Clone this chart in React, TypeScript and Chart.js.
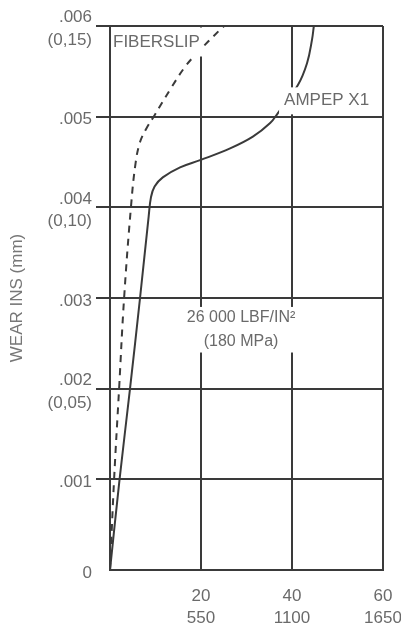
import React, { useEffect, useRef } from 'react';
import { Chart, registerables } from 'chart.js';

Chart.register(...registerables);

// ---- data ----
const xTickLabels: string[][] = [[''], ['20', '550'], ['40', '1100'], ['60', '1650']];
const yTickLabels: string[][] = [
  ['0'],
  ['.001'],
  ['.002', '(0,05)'],
  ['.003'],
  ['.004', '(0,10)'],
  ['.005'],
  ['.006', '(0,15)'],
];
const yTitle = 'WEAR INS (mm)';
const seriesNames = ['FIBERSLIP', 'AMPEP X1'];
const loadLabel = ['26 000 LBF/IN²', '(180 MPa)'];

const fiberslipX = [0, 0.9, 2.0, 3.1, 4.6, 5.6, 6.6, 8.0, 9.6, 13.6, 16.5, 19.1, 24.2, 25.1];
const fiberslipY = [0, 0.001, 0.002, 0.003, 0.004, 0.00448, 0.00472, 0.00487, 0.005, 0.00533, 0.00555, 0.0057, 0.00596, 0.006];

const ampepX = [0, 2.1, 4.4, 6.6, 8.5, 9.0, 9.8, 11.6, 15.4, 19.8, 26.4, 31.4, 35.2, 36.9, 41.3, 43.3, 44.4, 44.8];
const ampepY = [0, 0.001, 0.002, 0.003, 0.0039, 0.00411, 0.00423, 0.00433, 0.00444, 0.00452, 0.00465, 0.00478, 0.00493, 0.00504, 0.00535, 0.00559, 0.00585, 0.006];

const INK = '#3a3a3a';
const TEXT = '#6a6a6a';
const FONT = "'Liberation Sans', Arial, Helvetica, sans-serif";

const toPoints = (xs: number[], ys: number[]) => xs.map((x, i) => ({ x, y: ys[i] }));

const labelPlugin = {
  id: 'labels',
  afterDatasetsDraw(chart: any) {
    const { ctx, chartArea, scales } = chart;
    const xs = scales.x;
    const ys = scales.y;
    ctx.save();
    ctx.font = `17px ${FONT}`;
    ctx.textBaseline = 'middle';

    // FIBERSLIP
    {
      const left = chartArea.left + 3;
      const cy = ys.getPixelForValue(0.00582);
      const w = ctx.measureText(seriesNames[0]).width;
      ctx.fillStyle = '#fff';
      ctx.fillRect(chartArea.left + 1.5, chartArea.top + 1.5, w + 4, 29);
      ctx.fillStyle = TEXT;
      ctx.textAlign = 'left';
      ctx.fillText(seriesNames[0], left, cy);
    }
    // AMPEP X1
    {
      const cx = xs.getPixelForValue(47.6);
      const cy = ys.getPixelForValue(0.00518);
      const w = ctx.measureText(seriesNames[1]).width;
      ctx.fillStyle = '#fff';
      ctx.fillRect(cx - w / 2 - 5, cy - 13, w + 10, 27);
      ctx.fillStyle = TEXT;
      ctx.textAlign = 'center';
      ctx.fillText(seriesNames[1], cx, cy);
    }
    // load label
    {
      ctx.font = `16px ${FONT}`;
      const cx = xs.getPixelForValue(28.8);
      const y1 = ys.getPixelForValue(0.00278);
      const y2 = ys.getPixelForValue(0.00252);
      const w = Math.max(...loadLabel.map((t) => ctx.measureText(t).width));
      ctx.fillStyle = '#fff';
      ctx.fillRect(cx - w / 2 - 3, y1 - 11, w + 6, y2 - y1 + 22);
      ctx.fillStyle = TEXT;
      ctx.textAlign = 'center';
      ctx.fillText(loadLabel[0], cx, y1);
      ctx.fillText(loadLabel[1], cx, y2);
    }
    ctx.restore();
  },
};

export default function App() {
  const ref = useRef<HTMLCanvasElement | null>(null);

  useEffect(() => {
    if (!ref.current) return;
    const chart = new Chart(ref.current, {
      type: 'line',
      data: {
        datasets: [
          {
            label: seriesNames[0],
            data: toPoints(fiberslipX, fiberslipY),
            borderColor: INK,
            borderWidth: 2,
            borderDash: [7, 6],
            pointRadius: 0,
            fill: false,
            tension: 0.4,
          },
          {
            label: seriesNames[1],
            data: toPoints(ampepX, ampepY),
            borderColor: INK,
            borderWidth: 2,
            pointRadius: 0,
            fill: false,
            tension: 0.4,
          },
        ],
      },
      options: {
        responsive: false,
        animation: false,
        layout: { padding: { top: 26, right: 18, left: 0, bottom: 0 } },
        plugins: { legend: { display: false }, tooltip: { enabled: false } },
        scales: {
          x: {
            type: 'linear',
            min: 0,
            max: 60,
            ticks: {
              stepSize: 20,
              padding: 15,
              color: TEXT,
              maxRotation: 0,
              font: { family: FONT, size: 17, lineHeight: 1.3 },
              callback: (_v: any, i: number) => xTickLabels[i],
            },
            grid: { color: INK, lineWidth: 2, drawTicks: false },
            border: { color: INK, width: 2 },
            afterFit: (s: any) => {
              s.height = 55;
              s.paddingLeft = 0;
              s.paddingRight = 0;
            },
          },
          y: {
            type: 'linear',
            min: 0,
            max: 0.006,
            ticks: {
              stepSize: 0.001,
              padding: 4,
              labelOffset: 3,
              color: TEXT,
              font: { family: FONT, size: 17, lineHeight: 1.35 },
              callback: (_v: any, i: number) => yTickLabels[i],
            },
            grid: {
              color: INK,
              lineWidth: 2,
              tickLength: 14,
              tickWidth: 2,
              tickColor: (c: any) => (c.index === 0 ? 'rgba(0,0,0,0)' : INK),
            },
            border: { color: INK, width: 2 },
            title: {
              display: true,
              text: yTitle,
              color: '#777',
              font: { family: FONT, size: 17 },
              padding: { top: 7, bottom: 0 },
            },
            afterFit: (s: any) => {
              s.width = 110;
              s.paddingTop = 0;
              s.paddingBottom = 0;
            },
          },
        },
      },
      plugins: [labelPlugin],
    } as any);
    return () => chart.destroy();
  }, []);

  return (
    <div style={{ position: 'absolute', left: 0, top: 0, width: 401, height: 625, background: '#fff' }}>
      <canvas ref={ref} width={401} height={625} />
    </div>
  );
}
